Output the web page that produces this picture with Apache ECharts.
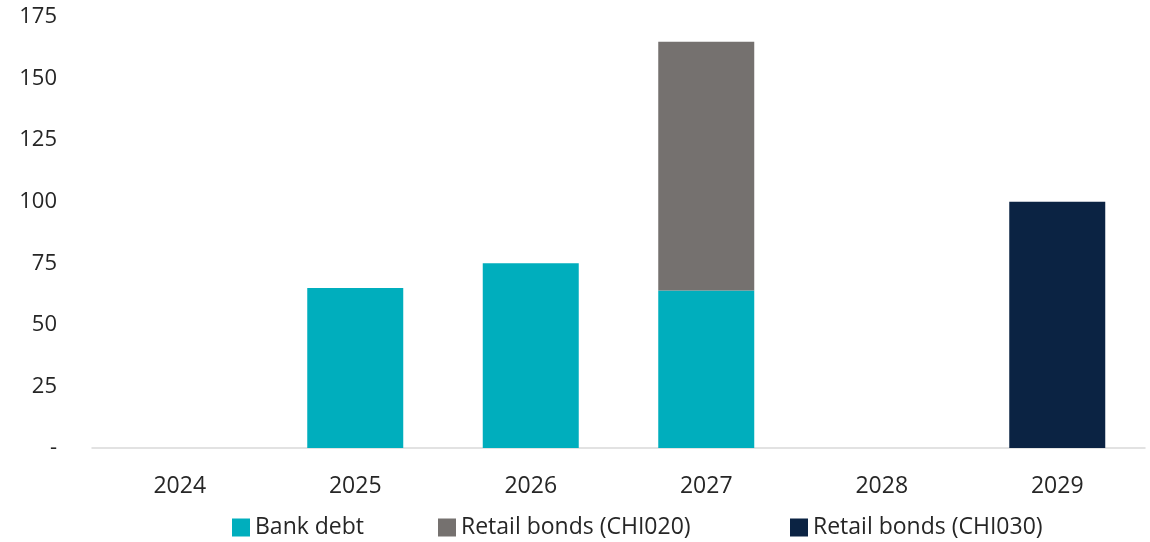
<!DOCTYPE html>
<html>
<head>
<meta charset="utf-8">
<script src="https://cdn.jsdelivr.net/npm/echarts@6/dist/echarts.min.js"></script>
<style>
  html, body { margin: 0; padding: 0; background: #ffffff; }
  #chart { width: 1150px; height: 542px; }
</style>
</head>
<body>
<div id="chart"></div>
<script>
// Debt maturity profile by year
const years = ['2024', '2025', '2026', '2027', '2028', '2029'];
const seriesNames = ['Bank debt', 'Retail bonds (CHI020)', 'Retail bonds (CHI030)'];
const bankDebt = [0, 65, 75, 64, 0, 0];
const retailCHI020 = [0, 0, 0, 101, 0, 0];
const retailCHI030 = [0, 0, 0, 0, 0, 100];
const yTicks = { min: 0, max: 175, interval: 25 };

const FONT = '"Open Sans", "Noto Sans", sans-serif';
const TEXT = '#262626';

const chart = echarts.init(document.getElementById('chart'), null, { renderer: 'canvas' });

function nz(arr) {
  return arr.map(v => (v === 0 ? '-' : v));
}

// one legend block per series so each entry sits at its own x position
const legendLeft = [232, 438, 790];
const legends = seriesNames.map((name, i) => ({
  top: 516,
  left: legendLeft[i],
  padding: 0,
  itemWidth: 18,
  itemHeight: 18,
  icon: 'rect',
  textStyle: { fontFamily: FONT, fontSize: 23, color: TEXT },
  data: [name]
}));

chart.setOption({
  animation: false,
  backgroundColor: '#ffffff',
  grid: { left: 92, right: 5, top: 17, bottom: 94, containLabel: false },
  legend: legends,
  xAxis: {
    type: 'category',
    data: years,
    axisLine: { lineStyle: { color: '#d9d9d9', width: 1.5 } },
    axisTick: { show: false },
    axisLabel: { fontFamily: FONT, fontSize: 23, color: TEXT, margin: 27 }
  },
  yAxis: {
    type: 'value',
    min: yTicks.min,
    max: yTicks.max,
    interval: yTicks.interval,
    splitLine: { show: false },
    axisLine: { show: false },
    axisTick: { show: false },
    axisLabel: {
      fontFamily: FONT, fontSize: 22, color: TEXT, margin: 35,
      formatter: v => (v === 0 ? '-' : String(v))
    }
  },
  series: [
    {
      name: seriesNames[0], type: 'bar', stack: 'total',
      barWidth: '54.7%',
      itemStyle: { color: '#00aebd' },
      data: nz(bankDebt)
    },
    {
      name: seriesNames[1], type: 'bar', stack: 'total',
      itemStyle: { color: '#75716f' },
      data: nz(retailCHI020)
    },
    {
      name: seriesNames[2], type: 'bar', stack: 'total',
      itemStyle: { color: '#0b2343' },
      data: nz(retailCHI030)
    }
  ]
});
</script>
</body>
</html>
